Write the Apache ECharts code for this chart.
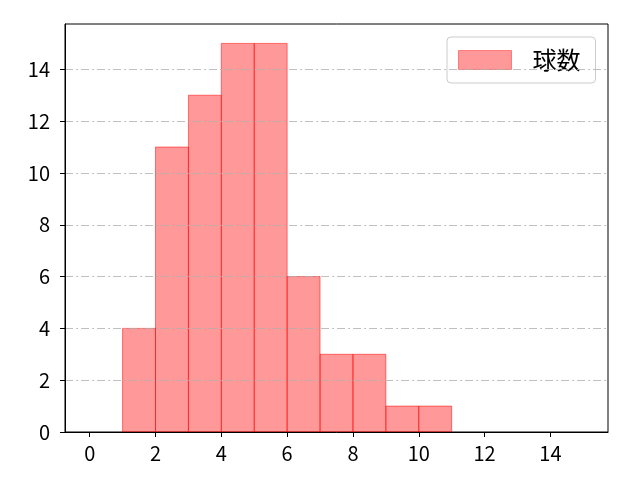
<!DOCTYPE html>
<html><head><meta charset="utf-8">
<script src="https://cdn.jsdelivr.net/npm/echarts@6/dist/echarts.min.js"></script>
<style>html,body{margin:0;padding:0;background:#fff}#c{width:640px;height:480px}</style>
</head><body><div id="c"></div>
<script>
const binEdges = [1,2,3,4,5,6,7,8,9,10,11];
const counts = [4,11,13,15,15,6,3,3,1,1];
const xTicks = [0,2,4,6,8,10,12,14];
const yTicks = [0,2,4,6,8,10,12,14];
const seriesName = '球数';

const data = counts.map((c,i)=>[binEdges[i], binEdges[i+1], c]);
const font = '"Noto Sans CJK JP", "DejaVu Sans", sans-serif';
const chart = echarts.init(document.getElementById('c'));
chart.setOption({
  animation:false,
  backgroundColor:'#fff',
  grid:{left:65,right:32,top:24,bottom:48,show:true,borderColor:'#000',borderWidth:1,backgroundColor:'transparent'},
  legend:{
    left:447, top:37, orient:'vertical',
    padding:[11,15,11,11],
    backgroundColor:'rgba(255,255,255,0.8)', borderColor:'#cccccc', borderWidth:1, borderRadius:4,
    itemWidth:53, itemHeight:19,
    textStyle:{fontFamily:font,fontSize:24,color:'#000',padding:[0,0,0,16]},
    data:[{name:seriesName, icon:'rect', itemStyle:{color:'rgba(255,0,0,0.4)',borderColor:'rgba(255,0,0,0.4)',borderWidth:1}}]
  },
  xAxis:{type:'value',min:-0.75,max:15.75,z:5,
    axisLine:{show:true,onZero:false,lineStyle:{color:'#000',width:1}},
    axisTick:{show:true,length:5,inside:false,customValues:xTicks,lineStyle:{color:'#000'}},
    axisLabel:{customValues:xTicks,color:'#000',fontSize:20,fontFamily:font,margin:11},
    splitLine:{show:false}},
  yAxis:{type:'value',min:0,max:15.75,z:5,
    axisLine:{show:true,onZero:false,lineStyle:{color:'#000',width:1}},
    axisTick:{show:true,length:5,customValues:yTicks,lineStyle:{color:'#000'}},
    axisLabel:{customValues:yTicks,color:'#000',fontSize:20,fontFamily:font,margin:15},
    splitLine:{show:true,customValues:yTicks,lineStyle:{color:'#b0b0b0',width:0.8,type:[8,3,2,3]}}},
  series:[{
    name:seriesName, type:'custom', z:1,
    itemStyle:{color:'rgba(255,0,0,0.4)'},
    encode:{x:[0,1],y:2},
    data:data,
    renderItem:function(params,api){
      const p0 = api.coord([api.value(0),0]);
      const p1 = api.coord([api.value(1),api.value(2)]);
      return {type:'rect',
        shape:{x:p0[0],y:p1[1],width:p1[0]-p0[0],height:p0[1]-p1[1]},
        style:{fill:'rgba(255,0,0,0.4)',stroke:'rgba(255,0,0,0.5)',lineWidth:1}};
    }
  }]
});
</script></body></html>
